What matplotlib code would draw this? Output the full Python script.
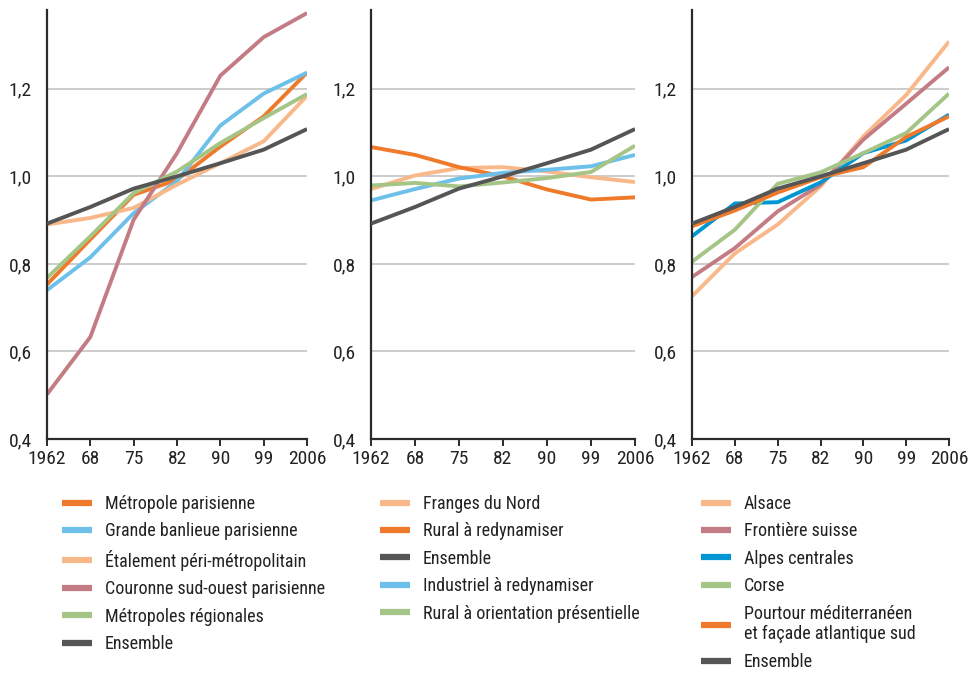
import matplotlib
matplotlib.use("Agg")
import matplotlib.pyplot as plt
from matplotlib.ticker import FuncFormatter

plt.rcParams['font.family'] = ['Liberation Sans Narrow', 'Roboto Condensed',
                               'DejaVu Sans Condensed', 'Open Sans Condensed',
                               'Liberation Sans', 'DejaVu Sans']
plt.rcParams['font.stretch'] = 'condensed'

years = ["1962", "68", "75", "82", "90", "99", "2006"]

ensemble = [0.892, 0.930, 0.972, 1.000, 1.030, 1.061, 1.108]

# Panel 1
metropole_parisienne = [0.753, 0.856, 0.958, 0.992, 1.068, 1.137, 1.237]
grande_banlieue = [0.740, 0.815, 0.916, 0.989, 1.116, 1.189, 1.237]
etalement = [0.890, 0.905, 0.928, 0.981, 1.030, 1.080, 1.184]
couronne_so = [0.502, 0.633, 0.901, 1.053, 1.230, 1.318, 1.373]
metropoles_regionales = [0.768, 0.863, 0.962, 1.011, 1.076, 1.133, 1.188]

# Panel 2
franges_nord = [0.971, 1.002, 1.019, 1.021, 1.011, 0.998, 0.987]
rural_redyn = [1.067, 1.049, 1.021, 1.000, 0.970, 0.947, 0.952]
industriel = [0.945, 0.971, 0.995, 1.008, 1.015, 1.023, 1.049]
rural_present = [0.979, 0.985, 0.977, 0.986, 0.996, 1.010, 1.070]

# Panel 3
alsace = [0.726, 0.824, 0.890, 0.977, 1.091, 1.186, 1.308]
frontiere_suisse = [0.770, 0.836, 0.920, 0.981, 1.084, 1.166, 1.249]
alpes_centrales = [0.863, 0.938, 0.941, 0.986, 1.053, 1.082, 1.141]
corse = [0.805, 0.878, 0.983, 1.009, 1.053, 1.099, 1.189]
pourtour = [0.886, 0.922, 0.963, 0.998, 1.021, 1.090, 1.137]

ORANGE = "#EF7A2B"
LBLUE = "#6DC0EA"
LORANGE = "#F9B88A"
PINK = "#C47C84"
GREEN = "#A5C587"
DARK = "#555555"
BLUE = "#0096D4"

panels = [
    [("Métropole parisienne", metropole_parisienne, ORANGE),
     ("Grande banlieue parisienne", grande_banlieue, LBLUE),
     ("Étalement péri-métropolitain", etalement, LORANGE),
     ("Couronne sud-ouest parisienne", couronne_so, PINK),
     ("Métropoles régionales", metropoles_regionales, GREEN),
     ("Ensemble", ensemble, DARK)],
    [("Franges du Nord", franges_nord, LORANGE),
     ("Rural à redynamiser", rural_redyn, ORANGE),
     ("Ensemble", ensemble, DARK),
     ("Industriel à redynamiser", industriel, LBLUE),
     ("Rural à orientation présentielle", rural_present, GREEN)],
    [("Alsace", alsace, LORANGE),
     ("Frontière suisse", frontiere_suisse, PINK),
     ("Alpes centrales", alpes_centrales, BLUE),
     ("Corse", corse, GREEN),
     ("Pourtour méditerranéen\net façade atlantique sud", pourtour, ORANGE),
     ("Ensemble", ensemble, DARK)],
]

fig = plt.figure(figsize=(9.69, 6.73), dpi=100)
W, H = 969, 673
axes_px = [(47, 307), (371, 635), (692, 949)]
top_px, bot_px = 10, 439
legend_x = [62, 380, 701]

x = list(range(len(years)))
for (l, r), series, lx in zip(axes_px, panels, legend_x):
    ax = fig.add_axes([l / W, 1 - bot_px / H, (r - l) / W, (bot_px - top_px) / H])
    handles = []
    for i, (name, vals, col) in enumerate(series):
        z = 3 if name == "Ensemble" else 2
        h, = ax.plot(x, vals, color=col, lw=2.8, zorder=z, solid_capstyle='butt',
                     label=name)
        handles.append(h)
    ax.set_xlim(0, 6)
    ax.set_ylim(0.4, 1.38)
    ax.set_yticks([0.4, 0.6, 0.8, 1.0, 1.2])
    ax.yaxis.set_major_formatter(FuncFormatter(lambda v, p: f"{v:.1f}".replace(".", ",")))
    ax.set_xticks(x)
    ax.set_xticklabels(years)
    for yv in [0.6, 0.8, 1.0, 1.2]:
        ax.axhline(yv, color="#C8C8C8", lw=1.3, zorder=1)
    for s in ["top", "right"]:
        ax.spines[s].set_visible(False)
    for s in ["left", "bottom"]:
        ax.spines[s].set_color("#2B2B2B")
        ax.spines[s].set_linewidth(1.6)
    ax.tick_params(axis='y', length=0, pad=11, labelsize=14, labelcolor="#222222")
    ax.tick_params(axis='x', length=5, width=1.4, color="#2B2B2B", pad=3,
                   labelsize=14, labelcolor="#222222")
    ax.set_facecolor("none")
    leg = fig.legend(handles=handles, loc='upper left',
                     bbox_to_anchor=(lx / W, 1 - 495 / H), frameon=False,
                     fontsize=13, handlelength=1.66, handletextpad=0.72,
                     labelspacing=0.52, borderpad=0, borderaxespad=0)
    for t in leg.get_texts():
        t.set_color("#222222")
    for lh in leg.get_lines():
        lh.set_linewidth(4.5)

fig.savefig("out.png", dpi=100)
